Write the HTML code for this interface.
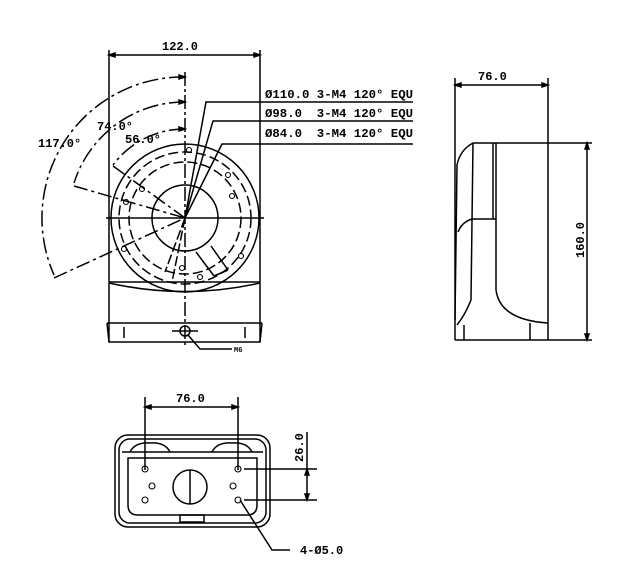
<!DOCTYPE html>
<html><head><meta charset="utf-8"><style>
html,body{margin:0;padding:0;background:#fff;}
svg{display:block;}
text{font-family:"Liberation Mono","DejaVu Sans Mono",monospace;font-weight:bold;font-size:12px;fill:#000;white-space:pre;}
</style></head><body>
<svg width="640" height="564" viewBox="0 0 640 564" xmlns="http://www.w3.org/2000/svg" fill="none" stroke="#000" stroke-width="1.5">
<!-- FRONT VIEW -->
<line x1="109" y1="50" x2="109" y2="342"/>
<line x1="260" y1="50" x2="260" y2="342"/>
<line x1="109" y1="55" x2="260" y2="55"/>
<path d="M109 55 l6 -2 v4 z M260 55 l-6 -2 v4 z" fill="#000"/>
<text x="162" y="50" stroke="none">122.0</text>
<path d="M109 283 Q185 300 260 283"/>
<line x1="109" y1="282" x2="260" y2="282"/>
<line x1="107" y1="323" x2="262" y2="323"/>
<path d="M107 323 L109 342 L260 342 L262 323"/>
<line x1="124" y1="327" x2="124" y2="338"/>
<line x1="245" y1="327" x2="245" y2="338"/>
<circle cx="185" cy="331" r="5"/>
<line x1="172" y1="331" x2="198" y2="331"/>
<path d="M188 335 L200 349 L232 349"/>
<text x="234" y="352" stroke="none" style="font-size:7px">M6</text>
<!-- circles -->
<circle cx="185" cy="218" r="74"/>
<circle cx="185" cy="218" r="66" stroke-dasharray="10 4"/>
<circle cx="185" cy="218" r="56" stroke-dasharray="10 4"/>
<circle cx="185" cy="218" r="33"/>
<line x1="106" y1="218" x2="264" y2="218"/>
<line x1="185" y1="72" x2="185" y2="348" stroke-dasharray="14 3 3 3"/>
<!-- holes -->
<g stroke-width="1.1">
<circle cx="189" cy="150" r="2.5"/><circle cx="228" cy="175" r="2.5"/><circle cx="232" cy="196" r="2.5"/>
<circle cx="142" cy="189" r="2.5"/><circle cx="126" cy="202" r="2.5"/><circle cx="124" cy="249" r="2.5"/>
<circle cx="241" cy="256" r="2.5"/><circle cx="200" cy="277" r="2.5"/><circle cx="182" cy="268" r="2.5"/>
</g>
<!-- slot -->
<path d="M196 252 L214 276 M211 246 L228 270 M214 276 L228 270"/>
<!-- angle arcs -->
<path d="M185 77 A141 141 0 0 0 54 275" stroke-dasharray="16 4 3 4"/>
<path d="M185 102 A116 116 0 0 0 74 183" stroke-dasharray="16 4 3 4"/>
<path d="M185 129 A89 89 0 0 0 113 165" stroke-dasharray="16 4 3 4"/>
<path d="M185 77 l-6 -2 v4 z M185 102 l-6 -2 v4 z M185 129 l-6 -2 v4 z" fill="#000"/>
<line x1="54" y1="278" x2="185" y2="218" stroke-dasharray="14 4 3 4"/>
<line x1="74" y1="186" x2="185" y2="218" stroke-dasharray="14 4 3 4"/>
<line x1="113" y1="166" x2="185" y2="218" stroke-dasharray="14 4 3 4"/>
<line x1="185" y1="218" x2="165" y2="272" stroke-dasharray="10 3"/>
<line x1="185" y1="218" x2="172" y2="282" stroke-dasharray="10 3"/>
<text x="38" y="147" stroke="none">117.0°</text>
<text x="97" y="130" stroke="none">74.0°</text>
<text x="125" y="143" stroke="none">56.0°</text>
<!-- leaders -->
<text x="265" y="98" stroke="none" textLength="148" lengthAdjust="spacingAndGlyphs">Ø110.0 3-M4 120° EQU</text>
<text x="265" y="117" stroke="none" textLength="148" lengthAdjust="spacingAndGlyphs">Ø98.0  3-M4 120° EQU</text>
<text x="265" y="137" stroke="none" textLength="148" lengthAdjust="spacingAndGlyphs">Ø84.0  3-M4 120° EQU</text>
<path d="M413 102 H206 L185 218"/>
<path d="M413 121 H213 L185 218"/>
<path d="M413 144 H222 L185 218"/>
<!-- SIDE VIEW -->
<line x1="455" y1="78" x2="455" y2="340"/>
<line x1="548" y1="78" x2="548" y2="340"/>
<line x1="455" y1="85" x2="548" y2="85"/>
<path d="M455 85 l6 -2 v4 z M548 85 l-6 -2 v4 z" fill="#000"/>
<text x="478" y="80" stroke="none">76.0</text>
<line x1="473" y1="143" x2="592" y2="143"/>
<line x1="455" y1="340" x2="592" y2="340"/>
<line x1="587" y1="143" x2="587" y2="340"/>
<path d="M587 143 l-2 6 h4 z M587 340 l-2 -6 h4 z" fill="#000"/>
<text x="0" y="0" stroke="none" transform="translate(584 258) rotate(-90)">160.0</text>
<path d="M473 143 Q460 150 457 165 L455 320"/>
<path d="M473 143 L471 300 Q465 315 457 325"/>
<line x1="493" y1="143" x2="493" y2="219"/>
<line x1="496" y1="143" x2="496" y2="290"/>
<path d="M496 290 Q500 320 548 323"/>
<line x1="472" y1="219" x2="496" y2="219"/>
<path d="M472 219 Q462 222 458 232"/>
<line x1="464" y1="325" x2="464" y2="340"/>
<line x1="530" y1="323" x2="530" y2="340"/>
<!-- BOTTOM VIEW -->
<line x1="145" y1="397" x2="145" y2="470"/>
<line x1="238" y1="397" x2="238" y2="470"/>
<line x1="145" y1="407" x2="238" y2="407"/>
<path d="M145 407 l6 -2 v4 z M238 407 l-6 -2 v4 z" fill="#000"/>
<text x="176" y="402" stroke="none">76.0</text>
<rect x="115" y="435" width="155" height="92" rx="13"/>
<rect x="119" y="439" width="147" height="84" rx="11"/>
<path d="M128 458 H257 V505 Q257 515 247 515 H138 Q128 515 128 505 Z"/>
<path d="M130 452 Q135 442 150 443 Q165 442 170 452 M212 452 Q217 442 232 443 Q247 442 252 452"/>
<line x1="122" y1="452" x2="263" y2="452"/>
<rect x="180" y="515" width="24" height="7"/>
<circle cx="190" cy="487" r="17"/>
<line x1="190" y1="470" x2="190" y2="504"/>
<g stroke-width="1.1">
<circle cx="145" cy="469" r="3"/><circle cx="238" cy="469" r="3"/>
<circle cx="152" cy="486" r="3"/><circle cx="233" cy="486" r="3"/>
<circle cx="145" cy="500" r="3"/><circle cx="238" cy="500" r="3"/>
</g>
<line x1="244" y1="469" x2="317" y2="469"/>
<line x1="244" y1="500" x2="317" y2="500"/>
<line x1="307" y1="432" x2="307" y2="500"/>
<path d="M307 469 l-2 6 h4 z M307 500 l-2 -6 h4 z" fill="#000"/>
<text x="0" y="0" stroke="none" transform="translate(303 462) rotate(-90)">26.0</text>
<path d="M240 500 L272 550 H290"/>
<text x="300" y="554" stroke="none">4-Ø5.0</text>
</svg>
</body></html>
